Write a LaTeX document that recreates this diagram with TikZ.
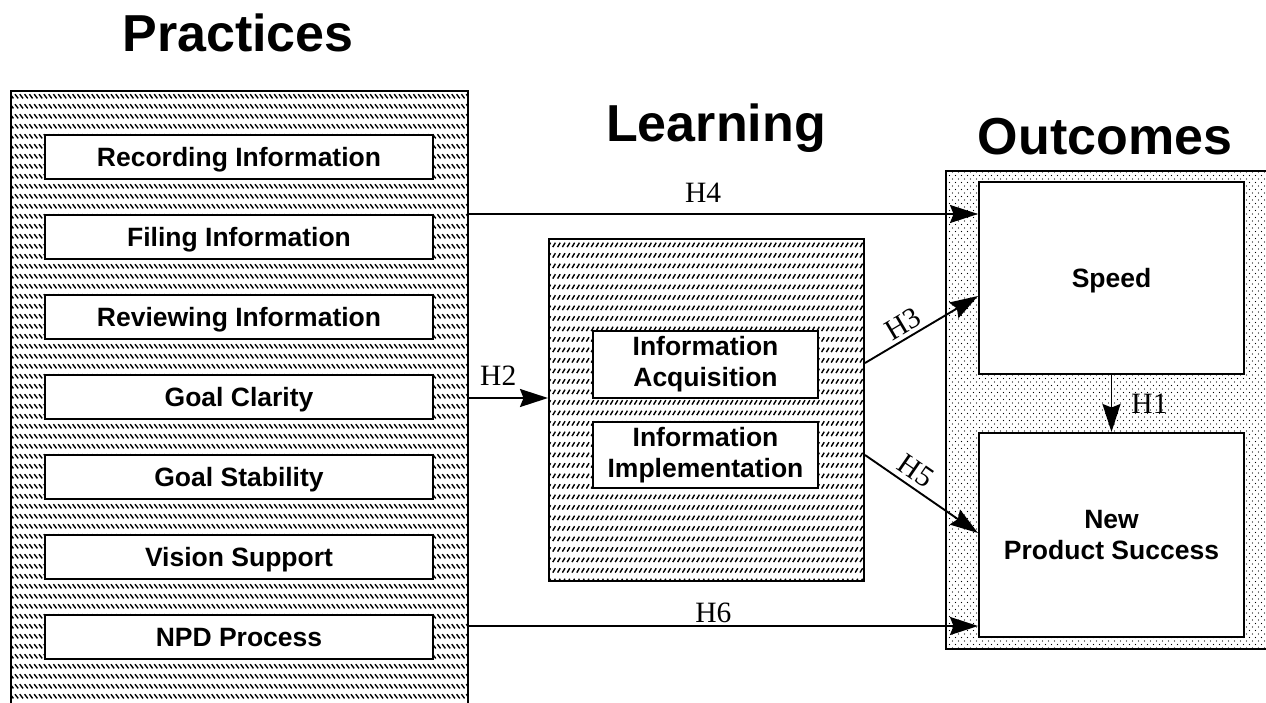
\documentclass[tikz,border=0pt]{standalone}
\usepackage{fontspec}
\setmainfont{Liberation Serif}
\setsansfont{Liberation Sans}
\usetikzlibrary{arrows.meta,patterns}

% rows of short back-slanted strokes
\pgfdeclarepatternformonly{backstrokes}{\pgfqpoint{-1pt}{-1pt}}{\pgfqpoint{6pt}{11pt}}{\pgfqpoint{4.8pt}{10pt}}{%
  \pgfsetlinewidth{1.4pt}%
  \pgfpathmoveto{\pgfqpoint{0.6pt}{7.8pt}}%
  \pgfpathlineto{\pgfqpoint{3.8pt}{3.6pt}}%
  \pgfusepath{stroke}}
% rows of short forward-slanted strokes
\pgfdeclarepatternformonly{fwdstrokes}{\pgfqpoint{-1pt}{-1pt}}{\pgfqpoint{6pt}{11.5pt}}{\pgfqpoint{4.8pt}{10.5pt}}{%
  \pgfsetlinewidth{1.4pt}%
  \pgfpathmoveto{\pgfqpoint{0.8pt}{3.4pt}}%
  \pgfpathlineto{\pgfqpoint{3.4pt}{7.8pt}}%
  \pgfusepath{stroke}}
% fine staggered dots
\pgfdeclarepatternformonly{dotgrid}{\pgfqpoint{-1pt}{-1pt}}{\pgfqpoint{7pt}{8pt}}{\pgfqpoint{6pt}{7pt}}{%
  \pgfpathcircle{\pgfqpoint{1.5pt}{1.5pt}}{0.7pt}%
  \pgfpathcircle{\pgfqpoint{4.5pt}{5pt}}{0.7pt}%
  \pgfusepath{fill}}

\begin{document}
\begin{tikzpicture}[x=1pt,y=-1pt,
  frame/.style={draw, line width=2pt, inner sep=0pt},
  panel/.style={frame, anchor=north west},
  item/.style={frame, fill=white, font=\fontsize{26.5}{31}\sffamily\bfseries, align=center},
  single/.style={text height=19pt, text depth=0pt},
  pitem/.style={item, single, minimum width=388pt, minimum height=44pt},
  title/.style={font=\fontsize{52}{60}\sffamily\bfseries, anchor=base, inner sep=0pt},
  hyp/.style={font=\fontsize{29.5}{32}\selectfont, inner sep=2pt},
  arr/.style={line width=1.9pt, -{Stealth[length=28pt,width=18pt,inset=3.5pt]}},
]
\useasboundingbox (0,0) rectangle (1266,702);
\clip (0,0) rectangle (1266,702);

% column titles
\node[title] (tprac) at (238,51) {Practices};
\node[title] (tlearn) at (716,141) {Learning};
\node[title] (tout) at (1105,154) {Outcomes};

% practices panel
\node[panel, pattern=backstrokes, minimum width=457pt, minimum height=640pt] (prac) at (10,90) {};
\node[pitem] (rec) at (239,157) {Recording Information};
\node[pitem] (fil) at (239,237) {Filing Information};
\node[pitem] (rev) at (239,317) {Reviewing Information};
\node[pitem] (gcl) at (239,397) {Goal Clarity};
\node[pitem] (gst) at (239,477) {Goal Stability};
\node[pitem] (vis) at (239,557) {Vision Support};
\node[pitem] (npd) at (239,637) {NPD Process};

% learning panel
\node[panel, pattern=fwdstrokes, minimum width=315pt, minimum height=342pt] (learn) at (548,238) {};
\node[item, minimum width=225pt, minimum height=67pt] (acq) at (705.5,364.5) {Information\\Acquisition};
\node[item, minimum width=225pt, minimum height=66pt] (imp) at (705.5,455) {Information\\Implementation};

% outcomes panel
\node[panel, pattern=dotgrid, minimum width=335pt, minimum height=478pt] (outc) at (945,170) {};
\node[item, single, minimum width=265pt, minimum height=192pt] (speed) at (1111.5,278) {Speed};
\node[item, minimum width=265pt, minimum height=204pt] (nps) at (1111.5,535) {New\\Product Success};

% heights at which the hypothesis arrows leave and arrive
\coordinate (yH4) at (0,214);
\coordinate (yH2) at (0,398);
\coordinate (yH3a) at (0,363);
\coordinate (yH3b) at (0,296);
\coordinate (yH5a) at (0,455);
\coordinate (yH5b) at (0,533);
\coordinate (yH6) at (0,626);

% hypotheses
\draw[arr] (prac.east |- yH4) -- node[hyp, above=9pt, pos=0.46] (lH4) {H4} (speed.west |- yH4);
\draw[arr] (prac.east |- yH2) -- node[hyp, above=9.5pt, pos=0.37] (lH2) {H2} (learn.west |- yH2);
\draw[arr] (learn.east |- yH3a) -- node[hyp, sloped, above=1pt, pos=0.4] (lH3) {H3} (speed.west |- yH3b);
\draw[arr] (learn.east |- yH5a) -- node[hyp, sloped, above=3pt, pos=0.37] (lH5) {H5} (nps.west |- yH5b);
\draw[arr] (prac.east |- yH6) -- node[hyp, above=0.5pt, pos=0.48] (lH6) {H6} (nps.west |- yH6);
\draw[arr] (speed.south) -- node[hyp, right=17pt] (lH1) {H1} (nps.north);
\end{tikzpicture}
\end{document}
